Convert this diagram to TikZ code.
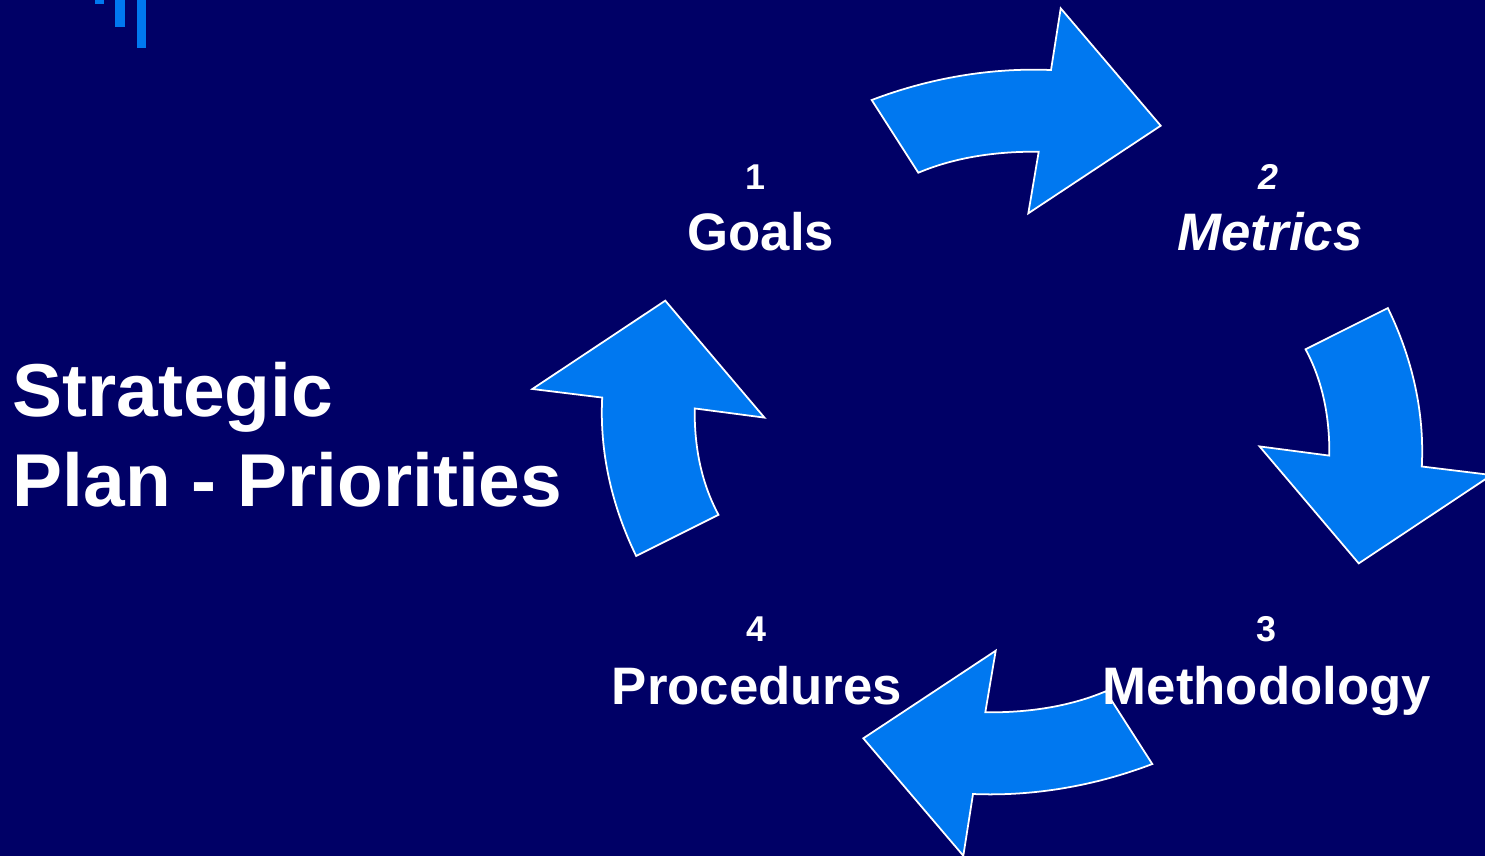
\documentclass[tikz,border=0pt]{standalone}
\usepackage{fontspec}
\setmainfont{Liberation Sans}
\definecolor{slidebg}{RGB}{0,0,102}
\definecolor{cycleblue}{RGB}{0,120,240}

\begin{document}
\begin{tikzpicture}[x=0.01cm,y=-0.01cm,
  cyclearrow/.style={fill=cycleblue,draw=white,line width=0.5pt,line join=miter},
  slidetitle/.style={anchor=base west,inner sep=0pt,text=white,font=\fontsize{21.3}{25.6}\selectfont\bfseries},
  steplabel/.style={anchor=base,inner sep=0pt,text=white,font=\fontsize{15}{18}\selectfont\bfseries},
  stepnum/.style={anchor=base,inner sep=0pt,text=white,font=\fontsize{10.2}{12}\selectfont\bfseries}]
\fill[slidebg] (0,0) rectangle (1485,856);
\useasboundingbox (0,0) rectangle (1485,856);

% bars in the corner
\fill[cycleblue] (95,0) rectangle (104,4);
\fill[cycleblue] (115,0) rectangle (125,27);
\fill[cycleblue] (137,0) rectangle (146,48);

% the four curved arrows, one shape turned round the centre
\foreach \ang in {0,-90,180,90}
  \draw[cyclearrow,shift={(1012,432)},xscale=1.132,rotate=\ang,xscale=0.8834]
    (-140.3,-332) .. controls (-83.3,-353.7) and (-22,-364.5) .. (39,-362)
    -- (48.7,-423.7) -- (148.7,-306.3) -- (16.3,-218.7) -- (26.7,-280.3)
    .. controls (-14.3,-280.7) and (-55.9,-275.2) .. (-93.7,-259.3) -- cycle;

\node[slidetitle] (strategic) at (12,416) {Strategic};
\node[slidetitle] (plan) at (12,506) {Plan - Priorities};

\node[stepnum] (n1) at (755,189) {1};
\node[steplabel] (goals) at (761,250) {Goals};
\node[stepnum,font=\fontsize{10.2}{12}\selectfont\bfseries\itshape] (n2) at (1268,189) {2};
\node[steplabel,font=\fontsize{15}{18}\selectfont\bfseries\itshape] (metrics) at (1270,250) {Metrics};
\node[stepnum] (n3) at (1266,641) {3};
\node[steplabel] (method) at (1267,704) {Methodology};
\node[stepnum] (n4) at (756,641) {4};
\node[steplabel] (proc) at (757,704) {Procedures};
\end{tikzpicture}
\end{document}
